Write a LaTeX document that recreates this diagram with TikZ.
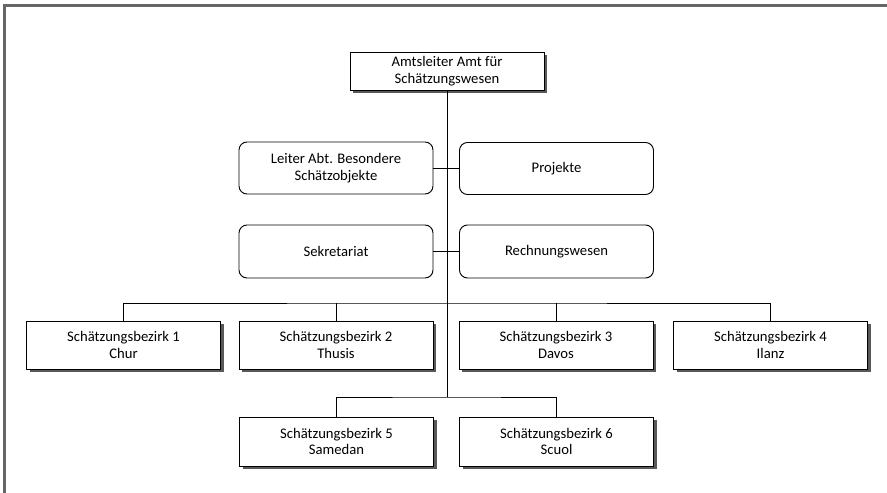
\documentclass[tikz,border=0pt]{standalone}
\usepackage{fontspec}
\setmainfont{Carlito}
\begin{document}
\begin{tikzpicture}[x=0.75pt,y=-0.75pt,
  every node/.style={font=\fontsize{11}{12.6}\selectfont, align=center, inner sep=0pt},
  sbox/.style={draw=black, fill=white, line width=0.7pt, minimum width=194*0.75pt, minimum height=48*0.75pt},
  rbox/.style={draw=black, fill=white, line width=0.7pt, rounded corners=6pt, minimum width=194*0.75pt, minimum height=52*0.75pt},
  shadow/.style={fill=black!65, draw=none},
  conn/.style={draw=black, line width=0.7pt}]
\useasboundingbox (0,0) rectangle (887,492);
\begin{scope}
\clip (0,0) rectangle (887,492);
\draw[black!60, line width=1.6pt] (4.5,510) -- (4.5,5.5) -- (900,5.5);
\end{scope}
\coordinate (bus1) at (447,303);
\coordinate (bus2) at (447,397);
% shadows
\foreach \cx/\cy/\h in {447/71/38, 123.5/345/48, 336/345/48, 556/345/48, 770.5/345/48, 336.5/441.5/49, 556.5/441.5/49}{
  \fill[shadow] (\cx-97+3,\cy-\h/2+3) rectangle (\cx+97+3,\cy+\h/2+3);
}
\node[sbox, minimum height=38*0.75pt] (top) at (447,71) {Amtsleiter Amt für\\Schätzungswesen};
\node[rbox] (leiter) at (336,168) {Leiter Abt. Besondere\\Schätzobjekte};
\node[rbox] (proj) at (556.5,168.5) {Projekte};
\node[rbox, minimum height=53*0.75pt] (sek) at (336,251.5) {Sekretariat};
\node[rbox, minimum height=53*0.75pt] (rech) at (556.5,251.5) {Rechnungswesen};
\node[sbox] (b1) at (123.5,345) {Schätzungsbezirk 1\\Chur};
\node[sbox] (b2) at (336,345) {Schätzungsbezirk 2\\Thusis};
\node[sbox] (b3) at (556,345) {Schätzungsbezirk 3\\Davos};
\node[sbox] (b4) at (770.5,345) {Schätzungsbezirk 4\\Ilanz};
\node[sbox, minimum height=49*0.75pt] (b5) at (336.5,441.5) {Schätzungsbezirk 5\\Samedan};
\node[sbox, minimum height=49*0.75pt] (b6) at (556.5,441.5) {Schätzungsbezirk 6\\Scuol};
% connectors
\draw[conn] (top.south) -- (bus2);
\draw[conn] (leiter.east) -- (leiter.east -| proj.west);
\draw[conn] (sek.east) -- (rech.west);
\draw[conn] (b1.north) |- (bus1) -| (b4.north);
\draw[conn] (b2.north) -- (b2.north |- bus1);
\draw[conn] (b3.north) -- (b3.north |- bus1);
\draw[conn] (b5.north) |- (bus2) -| (b6.north);
\end{tikzpicture}
\end{document}
